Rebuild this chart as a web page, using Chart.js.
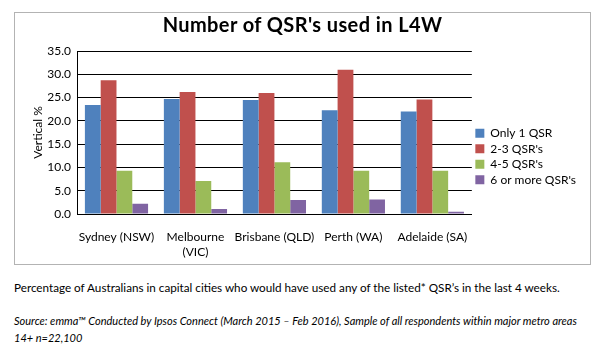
<!DOCTYPE html>
<html><head><meta charset="utf-8">
<script src="https://cdn.jsdelivr.net/npm/chart.js@4"></script>
<style>
body{margin:0;background:#fff;width:600px;height:358px;position:relative;overflow:hidden;font-family:Lato, "Open Sans", sans-serif;color:#000;}
#box{position:absolute;left:14px;top:12px;width:575px;height:251px;border:1px solid #b3b3b3;}
#title{position:absolute;left:0;width:100%;top:-1px;text-align:center;font-weight:bold;font-size:20px;letter-spacing:0.4px;}
#c{position:absolute;left:0;top:0;}
#note{position:absolute;left:14px;top:280px;font-size:11.7px;white-space:nowrap;}
#src{position:absolute;left:14px;top:312px;font-size:11px;font-style:italic;line-height:17px;white-space:nowrap;}
</style></head>
<body>
<div id="box">
<canvas id="c" width="575" height="251"></canvas>
<div id="title">Number of QSR's used in L4W</div>
</div>
<div id="note">Percentage of Australians in capital cities who would have used any of the listed* QSR’s in the last 4 weeks.</div>
<div id="src">Source: emma™ Conducted by Ipsos Connect (March 2015 – Feb 2016), Sample of all respondents within major metro areas<br>14+ n=22,100</div>
<script>
const categories = ["Sydney (NSW)", ["Melbourne", "(VIC)"], "Brisbane (QLD)", "Perth (WA)", "Adelaide (SA)"];
const seriesNames = ["Only 1 QSR", "2-3 QSR's", "4-5 QSR's", "6 or more QSR's"];
const only1 = [23.4, 24.7, 24.5, 22.3, 22.0];
const qsr23 = [28.7, 26.2, 26.0, 31.0, 24.6];
const qsr45 = [9.3, 7.1, 11.1, 9.3, 9.3];
const qsr6plus = [2.2, 1.1, 3.0, 3.1, 0.5];
const colors = ["#4f81bd", "#c0504d", "#9bbb59", "#8064a2"];
const yTicks = [0, 5, 10, 15, 20, 25, 30, 35];

const seriesData = [only1, qsr23, qsr45, qsr6plus];
new Chart(document.getElementById('c'), {
  type: 'bar',
  data: {
    labels: categories,
    datasets: seriesData.map((d, i) => ({
      label: seriesNames[i], data: d, backgroundColor: colors[i],
      barPercentage: 1.0, categoryPercentage: 0.8, borderWidth: 0
    }))
  },
  options: {
    responsive: false, animation: false,
    layout: { padding: { top: 38, bottom: 2, left: 12, right: 4 } },
    plugins: {
      legend: {
        position: 'right',
        labels: { boxWidth: 9, boxHeight: 9, color: '#000', font: { family: 'Lato', size: 12 }, padding: 3.5 }
      },
      tooltip: { enabled: false }
    },
    scales: {
      y: {
        min: 0, max: 35,
        afterBuildTicks: s => { s.ticks = yTicks.map(v => ({ value: v })); },
        afterFit: s => { s.width = 50; },
        ticks: { color: '#000', font: { family: 'Lato', size: 12 }, callback: v => v.toFixed(1), padding: 6 },
        grid: { color: '#000', drawTicks: false },
        border: { color: '#000' },
        title: { display: true, text: 'Vertical %', color: '#000', font: { family: 'Lato', size: 12 } }
      },
      x: {
        afterFit: s => { s.height = 48; },
        grid: { display: false },
        border: { color: '#000' },
        ticks: { color: '#000', font: { family: 'Lato', size: 12, lineHeight: 1.25 }, maxRotation: 0, autoSkip: false, padding: 8 }
      }
    }
  }
});
</script>
</body></html>
